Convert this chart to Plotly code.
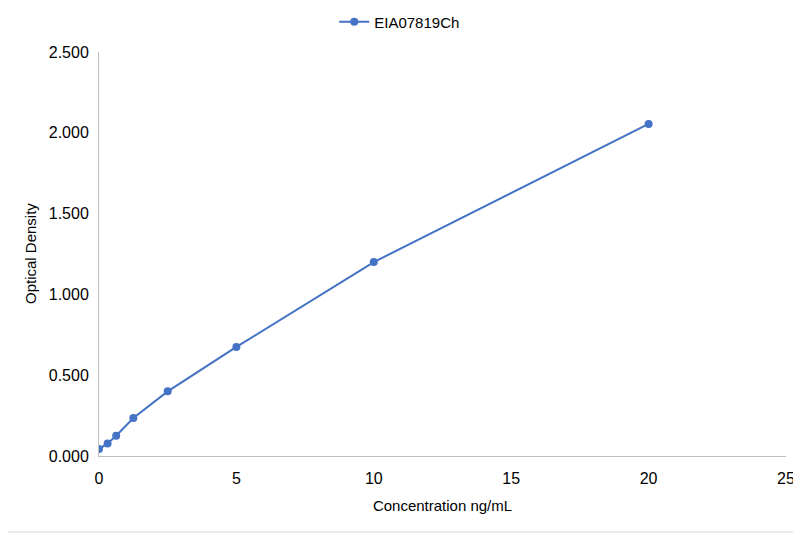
import plotly.graph_objects as go

# standard curve data
concentration = [0, 0.3125, 0.625, 1.25, 2.5, 5, 10, 20]
optical_density = [0.043, 0.078, 0.125, 0.235, 0.400, 0.675, 1.200, 2.055]

# page body has an 8px offset, so the figure is sized to fit the window
W, H = 793, 525
ml, mr, mt, mb = 91, 15, 44, 77
pw, ph = W - ml - mr, H - mt - mb

fig = go.Figure()
fig.add_trace(go.Scatter(
    x=concentration, y=optical_density,
    mode="lines+markers",
    name="EIA07819Ch",
    line=dict(color="#4472C4", width=2),
    marker=dict(color="#4472C4", size=8),
))

fig.update_layout(
    width=W, height=H,
    margin=dict(l=ml, r=mr, t=mt, b=mb, autoexpand=False),
    paper_bgcolor="white", plot_bgcolor="white",
    font=dict(family="Liberation Sans, Arial", size=16, color="#000000"),
    showlegend=True,
    legend=dict(orientation="h", xref="container", x=0.494, xanchor="center",
                y=1 + 30 / ph, yanchor="middle", font=dict(size=15)),
    xaxis=dict(
        range=[0, 25], tickvals=[0, 5, 10, 15, 20, 25],
        showgrid=False, zeroline=False, automargin=False,
        showline=True, linecolor="#BFBFBF", linewidth=1,
        ticks="", ticklabelstandoff=8,
        title=dict(text="Concentration ng/mL", font=dict(size=15), standoff=14),
    ),
    yaxis=dict(
        range=[0, 2.5], tickvals=[0, 0.5, 1.0, 1.5, 2.0, 2.5], tickformat=".3f",
        showgrid=False, zeroline=False, automargin=False,
        showline=True, linecolor="#BFBFBF", linewidth=1,
        ticks="", ticklabelstandoff=6,
    ),
    annotations=[dict(
        text="Optical Density", textangle=-90, showarrow=False,
        xref="paper", yref="paper", x=-(ml - 22) / pw, y=0.5,
        xanchor="center", yanchor="middle", font=dict(size=15),
    )],
    shapes=[
        dict(type="line", xref="paper", yref="paper",
             x0=1 + (mr - 2) / pw, x1=1 + (mr - 2) / pw,
             y0=-(mb - 1) / ph, y1=1 + mt / ph,
             line=dict(color="#D9D9D9", width=1)),
        dict(type="line", xref="paper", yref="paper",
             x0=-ml / pw, x1=1 + (mr - 2) / pw,
             y0=-(mb - 1) / ph, y1=-(mb - 1) / ph,
             line=dict(color="#D9D9D9", width=1)),
    ],
)

fig.write_html("out.html")
